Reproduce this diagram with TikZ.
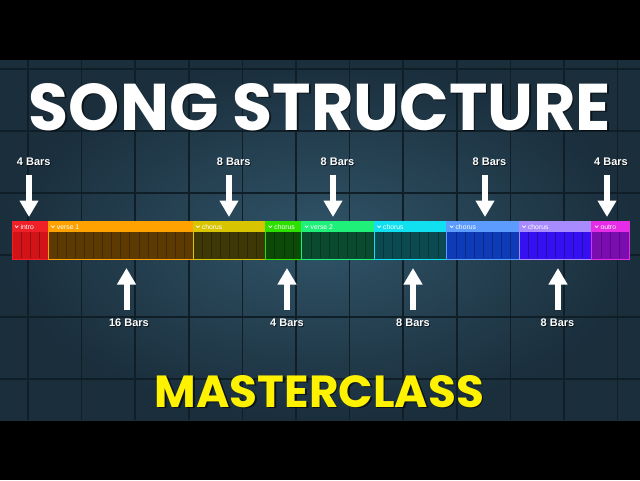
\documentclass[tikz,border=0pt]{standalone}
\usepackage{fontspec}
\setmainfont{Liberation Sans}
\newfontfamily\heavyfont{Poppins}
\usetikzlibrary{arrows.meta}

\definecolor{bgout}{RGB}{26,46,60}
\definecolor{bgin}{RGB}{48,84,104}
\definecolor{gridline}{RGB}{16,30,40}
\definecolor{titleyellow}{RGB}{255,242,0}
% section colours: header / body
\definecolor{hd1}{RGB}{240,32,40}   \definecolor{bd1}{RGB}{210,20,24}
\definecolor{hd2}{RGB}{255,162,0}   \definecolor{bd2}{RGB}{92,58,2}
\definecolor{hd3}{RGB}{216,196,0}   \definecolor{bd3}{RGB}{61,56,6}
\definecolor{hd4}{RGB}{46,224,0}    \definecolor{bd4}{RGB}{12,74,8}
\definecolor{hd5}{RGB}{30,240,122}  \definecolor{bd5}{RGB}{10,74,46}
\definecolor{hd6}{RGB}{16,224,240}  \definecolor{bd6}{RGB}{10,74,80}
\definecolor{hd7}{RGB}{92,156,255}  \definecolor{bd7}{RGB}{14,60,184}
\definecolor{hd8}{RGB}{168,140,255} \definecolor{bd8}{RGB}{53,16,240}
\definecolor{hd9}{RGB}{230,44,230}  \definecolor{bd9}{RGB}{122,12,176}

\tikzset{
  barlabel/.style={font=\bfseries\fontsize{11}{11}\selectfont, text=white, inner sep=0pt},
  barshadow/.style={barlabel, text=black, opacity=.6},
  barrow/.style={white, line width=6pt, -{Triangle[width=18pt,length=16.5pt]}},
  secbox/.style={anchor=north west, inner sep=0pt, line width=1pt, minimum height=36.6pt},
  seclabel/.style={font=\fontsize{6.8}{6.8}\selectfont, text=white, anchor=base west, inner sep=0pt},
  bigtitle/.style={anchor=south, inner sep=0pt},
}

\begin{document}
\begin{tikzpicture}[x=1pt,y=-1pt]
  \useasboundingbox (0,0) rectangle (640,480);
  \fill[black] (0,0) rectangle (640,480);
  \shade[inner color=bgin, outer color=bgout] (0,60) rectangle (640,420);
  % grid
  \foreach \gx in {0,...,11}
    \draw[gridline, line width=1.5pt] ({28+53.6*\gx},60) -- ({28+53.6*\gx},420);
  \foreach \gy in {0,...,5}
    \draw[gridline, line width=1.5pt] (0,{69+62*\gy}) -- (640,{69+62*\gy});

  % titles
  \node[bigtitle, text=black, opacity=.55] at (321.5,132.5) {\resizebox{582pt}{47pt}{\heavyfont\bfseries SONG STRUCTURE}};
  \node[bigtitle, text=white] (title) at (320,131) {\resizebox{582pt}{47pt}{\heavyfont\bfseries SONG STRUCTURE}};
  \node[bigtitle, text=black, opacity=.6] at (321,409.5) {\resizebox{329pt}{32pt}{\heavyfont\bfseries MASTERCLASS}};
  \node[bigtitle, text=titleyellow] (master) at (319.5,408) {\resizebox{329pt}{32pt}{\heavyfont\bfseries MASTERCLASS}};

  % song sections
  \foreach \secs/\secn/\seclbl [count=\i] in {0/4/intro, 4/16/verse 1, 20/8/chorus, 28/4/chorus, 32/8/verse 2, 40/8/chorus, 48/8/chorus, 56/8/chorus, 64/4/outro}{
    \pgfmathsetmacro{\secx}{12+9.06*\secs}
    \pgfmathsetmacro{\secw}{9.06*\secn}
    \pgfmathtruncatemacro{\secm}{\secn-1}
    \node[secbox, fill=bd\i, minimum width=\secw pt] (s\i) at (\secx,221.7) {};
    \foreach \k in {1,...,\secm}
      \draw[bd\i!72!black, line width=.6pt] ({\secx+9.06*\k},231.7) -- ({\secx+9.06*\k},258.3);
    \fill[hd\i] (s\i.north west) rectangle ([yshift=-10pt]s\i.north east);
    \draw[hd\i, line width=1pt] (s\i.north west) rectangle (s\i.south east);
    \draw[white, line width=.7pt] ([xshift=3pt,yshift=-4pt]s\i.north west) -- ++(1.7,1.8) -- ++(1.7,-1.8);
    \node[seclabel] (n\i) at ([xshift=8.5pt,yshift=-7.4pt]s\i.north west) {\seclbl};
  }

  % bar counts above
  \foreach \ax/\lx/\lbl [count=\j] in {29/33.8/4 Bars, 229/233.7/8 Bars, 333/337.5/8 Bars, 485/489.5/8 Bars, 607/611/4 Bars}{
    \node[barshadow] at (\lx+1,162.3) {\lbl};
    \node[barlabel] (top\j) at (\lx,161.3) {\lbl};
    \coordinate (topend\j) at (\ax,217);
    \draw[barrow, shorten <=10pt] (top\j.south -| topend\j) -- (topend\j);
  }
  % bar counts below
  \foreach \ax/\lx/\lbl [count=\j] in {126.5/129/16 Bars, 287/287/4 Bars, 413/413/8 Bars, 558/557.5/8 Bars}{
    \node[barshadow] at (\lx+1,324) {\lbl};
    \node[barlabel] (bot\j) at (\lx,323) {\lbl};
    \coordinate (botend\j) at (\ax,268);
    \draw[barrow, shorten <=9.3pt] (bot\j.north -| botend\j) -- (botend\j);
  }
\end{tikzpicture}
\end{document}
